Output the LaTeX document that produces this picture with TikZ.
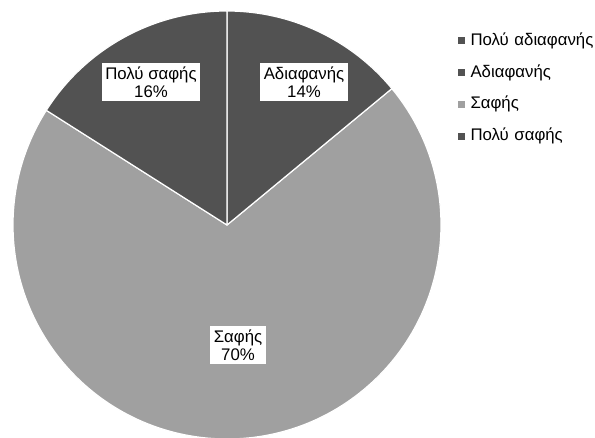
\documentclass[tikz,border=0pt]{standalone}
\usepackage{fontspec}
\setmainfont{Liberation Sans}
\usepackage{tikz}
\usetikzlibrary{positioning}
\definecolor{sliceDark}{HTML}{525252}
\definecolor{sliceLight}{HTML}{A0A0A0}
\tikzstyle{slice}=[draw=white, line width=1.2pt, line join=round]
\tikzstyle{label}=[fill=white, inner sep=3.5pt, align=center,
                   font=\fontsize{16.8}{18}\selectfont]
\tikzstyle{legtext}=[inner sep=0pt, text width=125pt, minimum height=31.3pt,
                     align=left, font=\fontsize{16.8}{18}\selectfont]
\tikzstyle{legsq}=[rectangle, minimum size=7pt, inner sep=0pt]

\begin{document}
\begin{tikzpicture}[x=1pt, y=1pt]
  \useasboundingbox (0,0) rectangle (595,438);
  \coordinate (c) at (227,213);

  % Slices
  \filldraw[slice, fill=sliceLight] (c) -- ++(39.6:214) arc[start angle=39.6, end angle=-212.4, radius=214] -- cycle;
  \filldraw[slice, fill=sliceDark] (c) -- ++(90:214) arc[start angle=90, end angle=39.6, radius=214] -- cycle;
  \filldraw[slice, fill=sliceDark] (c) -- ++(147.6:214) arc[start angle=147.6, end angle=90, radius=214] -- cycle;

  % Labels
  \node[label] (polysafis) at (151,356) {Πολύ σαφής\\16\%};
  \node[label] (adiafanis) at (304,356) {Αδιαφανής\\14\%};
  \node[label] (safis) at (238,93) {Σαφής\\70\%};

  % Legend
  \node[legtext] (leg1) at (533,397) {Πολύ αδιαφανής};
  \node[legtext, below=0pt of leg1] (leg2) {Αδιαφανής};
  \node[legtext, below=0pt of leg2] (leg3) {Σαφής};
  \node[legtext, below=0pt of leg3] (leg4) {Πολύ σαφής};
  \node[legsq, fill=sliceDark, left=5pt of leg1.west] (sq1) {};
  \node[legsq, fill=sliceDark, left=5pt of leg2.west] (sq2) {};
  \node[legsq, fill=sliceLight, left=5pt of leg3.west] (sq3) {};
  \node[legsq, fill=sliceDark, left=5pt of leg4.west] (sq4) {};
\end{tikzpicture}
\end{document}
